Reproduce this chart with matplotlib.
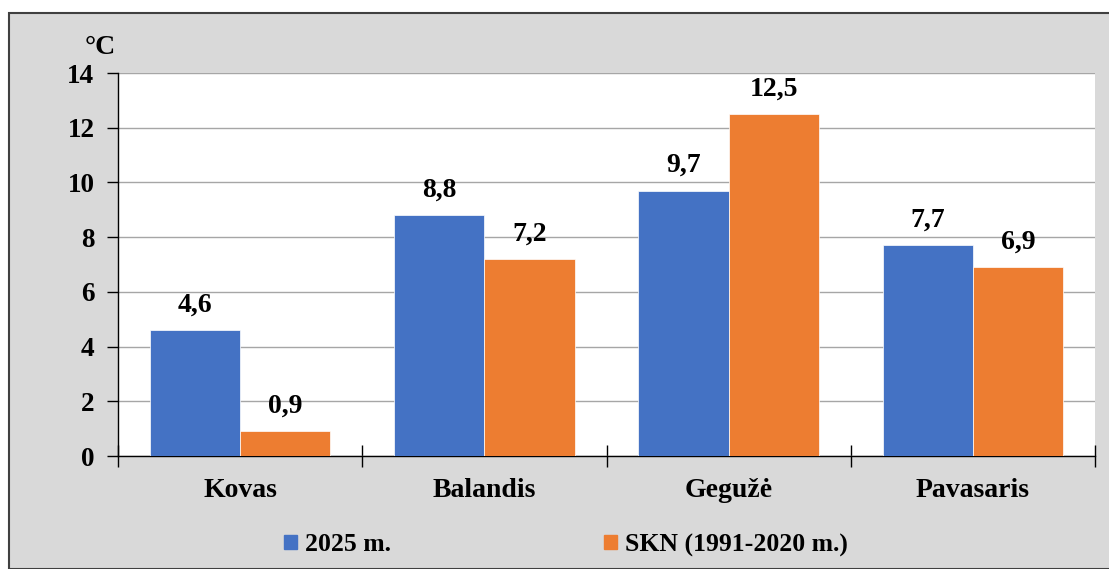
import numpy as np
import matplotlib.pyplot as plt
from matplotlib.patches import Rectangle, Patch

plt.rcParams['font.family'] = ['Liberation Serif', 'DejaVu Serif']
plt.rcParams['font.weight'] = 'bold'

categories = ['Kovas', 'Balandis', 'Gegužė', 'Pavasaris']
values_2025 = [4.6, 8.8, 9.7, 7.7]
values_skn = [0.9, 7.2, 12.5, 6.9]
series_names = ['2025 m.', 'SKN (1991-2020 m.)']
yticks = [0, 2, 4, 6, 8, 10, 12, 14]

blue = '#4472C4'
orange = '#ED7D31'

fig = plt.figure(figsize=(11.09, 5.69), dpi=100)
fig.patch.set_facecolor('white')

# grey chart area with dark frame on top / left
bg = Rectangle((9 / 1109, 0), 1.0, 1 - 13 / 569, transform=fig.transFigure,
               facecolor='#d9d9d9', edgecolor='#404040', linewidth=1.5, zorder=-10)
fig.patches.append(bg)

ax = fig.add_axes([118 / 1109, 1 - 456 / 569, (1095 - 118) / 1109, (456 - 73) / 569])
ax.set_facecolor('white')

x = np.arange(len(categories))
w = 0.37
b1 = ax.bar(x - w / 2, values_2025, w, color=blue, edgecolor='white', linewidth=0.5, zorder=3)
b2 = ax.bar(x + w / 2, values_skn, w, color=orange, edgecolor='white', linewidth=0.5, zorder=3)

for bars, vals in ((b1, values_2025), (b2, values_skn)):
    for r, v in zip(bars, vals):
        ax.annotate(f'{v:.1f}'.replace('.', ','), (r.get_x() + r.get_width() / 2, v),
                    xytext=(0, 9), textcoords='offset points', ha='center', va='bottom',
                    fontsize=20, fontweight='bold')

ax.set_xlim(-0.5, len(categories) - 0.5)
ax.set_ylim(0, 14)
ax.set_yticks(yticks)
ax.set_yticklabels([str(t) for t in yticks], fontsize=19.5, fontweight='bold')
ax.yaxis.grid(True, color='#a6a6a6', linewidth=1, zorder=0)
ax.set_axisbelow(True)

ax.set_xticks(np.arange(-0.5, len(categories), 1.0))
ax.set_xticklabels([])
ax.set_xticks(x, minor=True)
ax.set_xticklabels(categories, minor=True, fontsize=20, fontweight='bold')
ax.tick_params(axis='x', which='major', direction='inout', length=16, width=1, color='black')
ax.tick_params(axis='x', which='minor', length=0, pad=16)
ax.tick_params(axis='y', direction='out', length=8, width=1, color='black', pad=9)

for s in ('top', 'right'):
    ax.spines[s].set_visible(False)
ax.spines['left'].set_color('black')
ax.spines['bottom'].set_color('black')
ax.spines['left'].set_linewidth(1)
ax.spines['bottom'].set_linewidth(1)

fig.text(100 / 1109, 1 - 47 / 569, '°C', ha='center', va='center', fontsize=20, fontweight='bold')

handles = [Patch(color=blue), Patch(color=orange)]
fig.legend(handles, series_names, loc='center', bbox_to_anchor=(566 / 1109, 1 - 545 / 569),
           ncol=2, frameon=False, handlelength=0.5, handleheight=0.5, handletextpad=0.3,
           columnspacing=8.3, prop={'size': 18.5, 'weight': 'bold'})

fig.savefig('out.png', dpi=100)
